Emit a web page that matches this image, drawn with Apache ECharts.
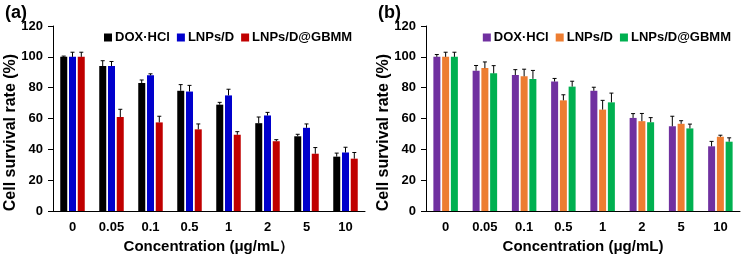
<!DOCTYPE html>
<html>
<head>
<meta charset="utf-8">
<script src="https://cdn.jsdelivr.net/npm/echarts@6/dist/echarts.min.js"></script>
<style>
  html, body { margin: 0; padding: 0; background: #fff; }
  #chart { width: 744px; height: 259px; }
</style>
</head>
<body>
<div id="chart"></div>
<script>
const concentrations = ["0", "0.05", "0.1", "0.5", "1", "2", "5", "10"];
const seriesNames = ["DOX·HCl", "LNPs/D", "LNPs/D@GBMM"];

// panel (a)
const aDox = [100, 94, 83, 78, 69, 57, 48.5, 35.3];
const aDoxErr = [0.5, 3.5, 2, 4, 1.5, 4, 1.3, 2.3];
const aLnp = [100, 94, 88, 77.5, 75, 62, 54, 38];
const aLnpErr = [3, 3, 1, 4, 4, 2, 2.5, 3.4];
const aGbmm = [100, 61, 57.5, 53, 49.5, 45.3, 37.2, 34];
const aGbmmErr = [3, 5, 4, 3.5, 2, 1, 4, 4];

// panel (b)
const bDox = [100, 91, 88.2, 84, 78, 60.4, 55, 42];
const bDoxErr = [1.5, 3.4, 3.5, 2, 2.3, 2.8, 6.5, 3.2];
const bLnp = [100, 92.7, 87.4, 71.8, 65.8, 58.3, 56.6, 48.2];
const bLnpErr = [3, 4, 4.6, 3.6, 6, 5, 2, 1];
const bGbmm = [100, 89.3, 85.7, 80.7, 70.5, 57.6, 53.6, 45];
const bGbmmErr = [3, 5, 5.5, 3.5, 6, 3, 2.8, 2.5];

const colorsA = ["#000000", "#0000cc", "#c00000"];
const colorsB = ["#7030a0", "#ed7d31", "#00b050"];

const FONT = "'Liberation Sans', Arial, sans-serif";
const BAR_W = 7;
const BAR_GAP = 1.8;

const chart = echarts.init(document.getElementById("chart"));

function makeXAxis(idx, name) {
  return {
    type: "category",
    gridIndex: idx,
    data: concentrations,
    name: name,
    nameLocation: "middle",
    nameGap: 24,
    nameTextStyle: { fontFamily: FONT, fontWeight: "bold", fontSize: 15, color: "#000" },
    axisLine: { lineStyle: { color: "#000", width: 1 } },
    axisTick: { show: false },
    axisLabel: { fontFamily: FONT, fontWeight: "bold", fontSize: 13, color: "#000", margin: 10 },
  };
}

function makeYAxis(idx) {
  return {
    type: "value",
    gridIndex: idx,
    min: 0,
    max: 120,
    interval: 20,
    name: "Cell survival rate (%)",
    nameLocation: "middle",
    nameGap: 34,
    nameMoveOverlap: false,
    nameTextStyle: { fontFamily: FONT, fontWeight: "bold", fontSize: 16, color: "#000", padding: [0, 28, 0, 0] },
    axisLine: { show: true, lineStyle: { color: "#000", width: 1 } },
    axisTick: { show: true, length: 5, lineStyle: { color: "#000" } },
    axisLabel: { fontFamily: FONT, fontWeight: "bold", fontSize: 13, color: "#000", margin: 10 },
    splitLine: { show: false },
  };
}

function barSeries(idx, name, values, color) {
  return {
    name: name,
    type: "bar",
    xAxisIndex: idx,
    yAxisIndex: idx,
    data: values,
    barWidth: BAR_W,
    barGap: "25%",
    itemStyle: { color: color },
  };
}

function errorSeries(idx, pos, values, errs) {
  return {
    type: "custom",
    xAxisIndex: idx,
    yAxisIndex: idx,
    silent: true,
    z: 5,
    data: values.map((v, i) => [i, v, errs[i]]),
    renderItem: function (params, api) {
      const cat = api.value(0);
      const v = api.value(1);
      const e = api.value(2);
      const shift = (pos - 1) * (BAR_W + BAR_GAP);
      const base = api.coord([cat, v]);
      const top = api.coord([cat, v + e]);
      const x = base[0] + shift;
      return {
        type: "group",
        children: [
          {
            type: "line",
            shape: { x1: x, y1: base[1], x2: x, y2: top[1] },
            style: { stroke: "#000", lineWidth: 1 },
          },
          {
            type: "line",
            shape: { x1: x - 2, y1: top[1], x2: x + 2, y2: top[1] },
            style: { stroke: "#000", lineWidth: 1 },
          },
        ],
      };
    },
  };
}

function makeLegend(pos, colors) {
  return Object.assign({
    top: 26,
    itemWidth: 8,
    itemHeight: 8,
    itemGap: 7,
    icon: "rect",
    orient: "horizontal",
    selectedMode: false,
    textStyle: { fontFamily: FONT, fontWeight: "bold", fontSize: 13, color: "#000", padding: [0, 0, 0, -2] },
    data: seriesNames.map((n, i) => ({ name: n, itemStyle: { color: colors[i] } })),
  }, pos);
}

const option = {
  animation: false,
  title: [
    { text: "(a)", left: 0, top: -1, textStyle: { fontFamily: FONT, fontWeight: "bold", fontSize: 18, color: "#000" } },
    { text: "(b)", left: 373, top: -1, textStyle: { fontFamily: FONT, fontWeight: "bold", fontSize: 18, color: "#000" } },
  ],
  legend: [
    makeLegend({ left: 99, width: 280 }, colorsA),
    makeLegend({ right: 8, width: 280 }, colorsB),
  ],
  grid: [
    { left: 53, top: 26, width: 312, height: 187 },
    { left: 426, top: 26, width: 314, height: 186 },
  ],
  xAxis: [makeXAxis(0, "Concentration (μg/mL\uff09"), makeXAxis(1, "Concentration (μg/mL)")],
  yAxis: [makeYAxis(0), makeYAxis(1)],
  series: [
    barSeries(0, seriesNames[0], aDox, colorsA[0]),
    barSeries(0, seriesNames[1], aLnp, colorsA[1]),
    barSeries(0, seriesNames[2], aGbmm, colorsA[2]),
    barSeries(1, seriesNames[0], bDox, colorsB[0]),
    barSeries(1, seriesNames[1], bLnp, colorsB[1]),
    barSeries(1, seriesNames[2], bGbmm, colorsB[2]),
    errorSeries(0, 0, aDox, aDoxErr),
    errorSeries(0, 1, aLnp, aLnpErr),
    errorSeries(0, 2, aGbmm, aGbmmErr),
    errorSeries(1, 0, bDox, bDoxErr),
    errorSeries(1, 1, bLnp, bLnpErr),
    errorSeries(1, 2, bGbmm, bGbmmErr),
  ],
};

chart.setOption(option);
</script>
</body>
</html>
